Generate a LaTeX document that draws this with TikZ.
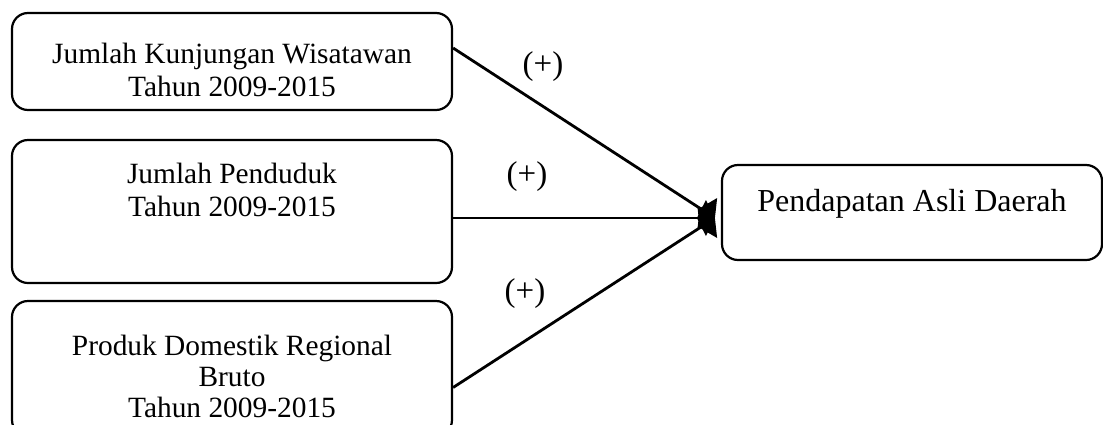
\documentclass[tikz,border=0pt]{standalone}
\usepackage{fontspec}
\setmainfont{Liberation Serif}
\usetikzlibrary{arrows.meta,calc}
\begin{document}
\begin{tikzpicture}[x=1pt,y=-1pt,
  box/.style={draw, line width=2.2pt, rounded corners=16pt, inner sep=0pt},
  conn/.style={line width=2.8pt, -{Kite[length=18pt,width=36pt,inset=9pt]}},
  txt/.style={font=\fontsize{29.4}{33}\selectfont, align=center, inner sep=0pt, anchor=north},
  sign/.style={font=\fontsize{33}{36}\selectfont, inner sep=0pt}]
\useasboundingbox (0,0) rectangle (1103,424);
\node[box, minimum width=440pt, minimum height=97pt] (b1) at (232,61.5) {};
\node[box, minimum width=440pt, minimum height=143pt] (b2) at (232,211.5) {};
\node[box, minimum width=440pt, minimum height=135pt] (b3) at (232,368.5) {};
\node[box, minimum width=380pt, minimum height=95pt] (b4) at (912,212.5) {};
\node[txt] (t1) at (232,43.2) {Jumlah Kunjungan Wisatawan\\Tahun 2009-2015};
\node[txt] (t2) at (232,163.2) {Jumlah Penduduk\\Tahun 2009-2015};
\node[txt, font=\fontsize{29.4}{31}\selectfont] (t3) at (232,335) {Produk Domestik Regional\\Bruto\\Tahun 2009-2015};
\node[txt, font=\fontsize{32}{36}\selectfont] (t4) at (912,189) {Pendapatan Asli Daerah};
\coordinate (tip) at ([xshift=-6pt,yshift=-5.5pt]b4.west);
\draw[conn] ([yshift=13.5pt]b1.east) -- (tip);
\draw[conn] ([yshift=-6.5pt]b2.east) -- (tip);
\draw[conn] ([yshift=-19pt]b3.east) -- (tip);
\node[sign] (s1) at (543,67) {(+)};
\node[sign] (s2) at (527,176.5) {(+)};
\node[sign] (s3) at (525,293.5) {(+)};
\end{tikzpicture}
\end{document}
